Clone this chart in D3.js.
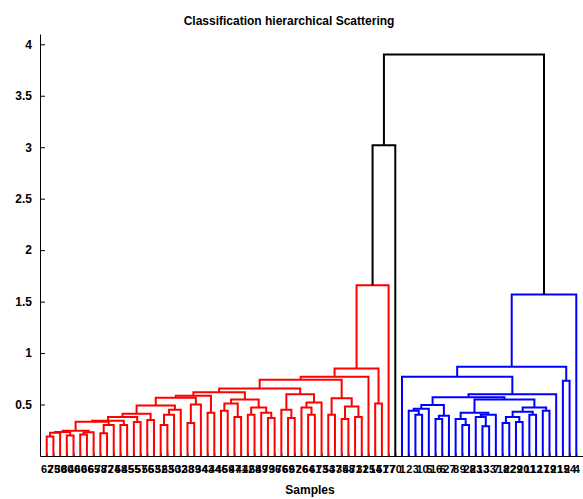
<!DOCTYPE html>
<html>
<head>
<meta charset="utf-8">
<script src="https://cdn.jsdelivr.net/npm/d3@7/dist/d3.min.js"></script>
<style>
  body { margin: 0; background: #fff; }
  text { font-family: "Liberation Sans", Arial, sans-serif; font-weight: bold; }
</style>
</head>
<body>
<div id="chart"></div>
<script>
// leaf labels, in display order (left to right)
var leafLabels = [62, 75, 30, 80, 40, 60, 66, 65, 78, 72, 74, 58, 45, 55, 57, 56, 53, 52, 63, 50,
    32, 38, 39, 34, 43, 44, 46, 59, 47, 41, 42, 68, 49, 79, 36, 76, 69, 67, 26, 64,
    61, 73, 54, 37, 35, 48, 71, 31, 25, 14, 51, 77, 70,
    1, 2, 3, 10, 5, 16, 6, 27, 8, 9, 28, 23, 13, 33, 7, 18, 22, 29, 20, 11, 12, 17, 19, 21, 15, 24, 4];

// each link merges the leaves linkLo..linkHi (display positions) at linkHeight
var linkLo = [1, 1, 4, 1, 6, 6, 1, 9, 9, 1, 12, 1, 14, 1, 16, 1, 18, 18, 18, 1, 22, 22, 1, 25, 1,
    27, 29, 27, 31, 34, 33, 31, 27, 1,
    37, 36, 40, 39, 39, 36, 1,
    43, 45, 47, 45, 43, 1, 1, 50, 1, 1, 1,
    56, 55, 55, 59, 59, 55, 63, 62, 66, 65, 65, 62, 69, 71, 69, 73, 69, 75, 69, 62, 55, 55, 54, 78, 54, 54, 1];
var linkHi = [2, 3, 5, 5, 7, 8, 8, 10, 11, 11, 13, 13, 15, 15, 17, 17, 19, 20, 21, 21, 23, 24, 24, 26, 26,
    28, 30, 30, 32, 35, 35, 35, 35, 35,
    38, 38, 41, 41, 42, 42, 42,
    44, 46, 48, 48, 48, 48, 49, 51, 51, 52, 53,
    57, 57, 58, 60, 61, 61, 64, 64, 67, 67, 68, 68, 70, 72, 72, 74, 74, 76, 76, 76, 76, 77, 77, 79, 79, 80, 80];
var linkHeight = [0.19, 0.225, 0.20, 0.232, 0.21, 0.23, 0.246, 0.22, 0.30, 0.333, 0.30, 0.343, 0.33, 0.38, 0.35, 0.41, 0.30, 0.40, 0.45, 0.49, 0.32, 0.50, 0.566, 0.42, 0.585,
    0.44, 0.38, 0.51, 0.40, 0.37, 0.42, 0.47, 0.55, 0.62,
    0.37, 0.45, 0.40, 0.47, 0.52, 0.60, 0.657,
    0.40, 0.36, 0.38, 0.48, 0.56, 0.74, 0.77, 0.51, 0.85, 1.66, 3.02,
    0.40, 0.44, 0.46, 0.36, 0.39, 0.495, 0.30, 0.36, 0.29, 0.38, 0.40, 0.42, 0.32, 0.33, 0.38, 0.40, 0.43, 0.44, 0.47, 0.55, 0.57, 0.60, 0.77, 0.73, 0.867, 1.57, 3.90];

var yTicks = [0.5, 1, 1.5, 2, 2.5, 3, 3.5, 4];
var groupColors = ["#ff0000", "#0000ff"];

var width = 583, height = 499;
var margin = { top: 34, left: 40, bottom: 43 };
var n = leafLabels.length;

var x = d3.scaleLinear().domain([0, n + 1]).range([margin.left, margin.left + 543]);
var y = d3.scaleLinear().domain([0, 4.1]).range([height - margin.bottom, margin.top]);

var svg = d3.select("#chart").append("svg")
    .attr("width", width)
    .attr("height", height);

// build the tree from the leaf ranges
var nodes = {};
for (var i = 1; i <= n; i++) nodes[i + "-" + i] = { x: i, h: 0, lo: i, hi: i, leaf: true };

var links = linkLo.map(function (lo, k) { return { lo: lo, hi: linkHi[k], h: linkHeight[k] }; });
links.sort(function (a, b) { return (a.hi - a.lo) - (b.hi - b.lo); });

links.forEach(function (l) {
    var e = l.hi - 1;
    while (e >= l.lo && !nodes[l.lo + "-" + e]) e--;
    l.left = nodes[l.lo + "-" + e];
    l.right = nodes[(e + 1) + "-" + l.hi];
    l.x = (l.left.x + l.right.x) / 2;
    nodes[l.lo + "-" + l.hi] = l;
});

// colour groups, like matlab: cut at 0.7 * max height
var cut = 0.7 * d3.max(linkHeight);
var groups = [];
links.forEach(function (l) {
    if (l.h >= cut) {
        [l.left, l.right].forEach(function (c) { if (!c.leaf && c.h < cut) groups.push(c); });
    }
});
groups.sort(function (a, b) { return a.lo - b.lo; });
links.forEach(function (l) {
    l.color = "#000";
    if (l.h < cut) {
        groups.forEach(function (g, gi) {
            if (l.lo >= g.lo && l.hi <= g.hi) l.color = groupColors[gi];
        });
    }
});

// axes
svg.append("g")
    .attr("transform", "translate(0," + y(0) + ")")
    .call(d3.axisBottom(x)
        .tickValues(d3.range(1, n + 1))
        .tickSizeInner(-3)
        .tickSizeOuter(0)
        .tickPadding(9)
        .tickFormat(function (d) { return leafLabels[d - 1]; }))
    .call(function (g) {
        g.selectAll("text").style("font-size", "11px").attr("fill", "#000");
    });

svg.append("g")
    .attr("transform", "translate(" + margin.left + ",0)")
    .call(d3.axisLeft(y)
        .tickValues(yTicks)
        .tickSizeInner(-5)
        .tickSizeOuter(0)
        .tickPadding(8)
        .tickFormat(d3.format("")))
    .call(function (g) {
        g.selectAll("text").style("font-size", "12px").attr("fill", "#000");
    });

// dendrogram links
svg.append("g").selectAll("path")
    .data(links)
    .enter().append("path")
    .attr("d", function (l) {
        return "M" + x(l.left.x) + "," + y(l.left.h) +
            "V" + y(l.h) + "H" + x(l.right.x) + "V" + y(l.right.h);
    })
    .attr("fill", "none")
    .attr("stroke", function (l) { return l.color; })
    .attr("stroke-width", 2);

svg.append("text")
    .attr("x", 289)
    .attr("y", 25)
    .attr("text-anchor", "middle")
    .style("font-size", "12px")
    .text("Classification hierarchical Scattering");

svg.append("text")
    .attr("x", 310)
    .attr("y", 494)
    .attr("text-anchor", "middle")
    .style("font-size", "12px")
    .text("Samples");
</script>
</body>
</html>
